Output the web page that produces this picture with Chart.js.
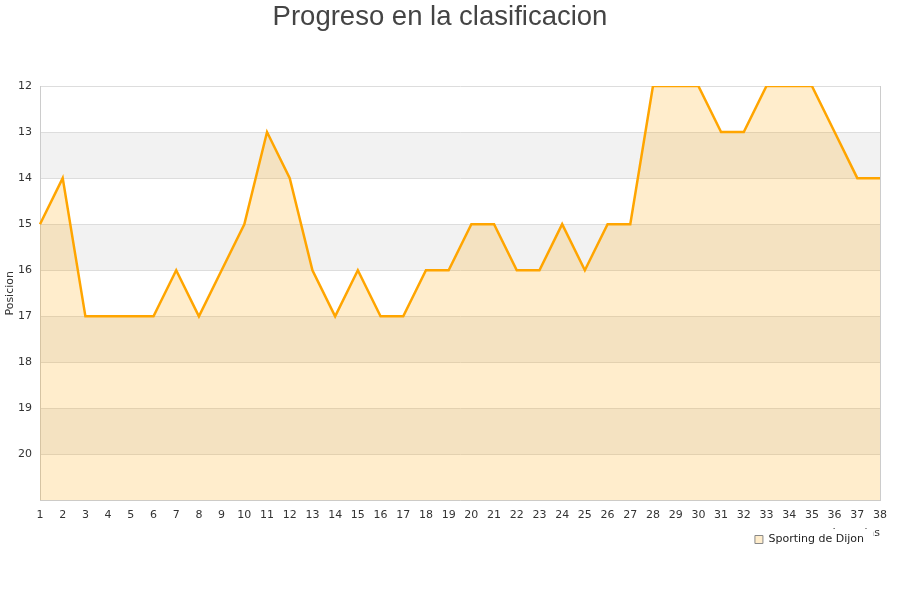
<!DOCTYPE html>
<html>
<head>
<meta charset="utf-8">
<script src="https://cdn.jsdelivr.net/npm/chart.js@4"></script>
<style>
  html, body { margin: 0; padding: 0; background: #ffffff; }
  #wrap { width: 900px; height: 600px; }
</style>
</head>
<body>
<div id="wrap"><canvas id="c" width="900" height="600"></canvas></div>
<script>
const jornadas = [1,2,3,4,5,6,7,8,9,10,11,12,13,14,15,16,17,18,19,20,21,22,23,24,25,26,27,28,29,30,31,32,33,34,35,36,37,38];
const posiciones = [15,14,17,17,17,17,16,17,16,15,13,14,16,17,16,17,17,16,16,15,15,16,16,15,16,15,15,12,12,12,13,13,12,12,12,13,14,14];
const teamName = 'Sporting de Dijon';
const chartTitle = 'Progreso en la clasificacion';
const yTitle = 'Posicion';
const xTitle = 'Jornadas';
const yMin = 12, yMax = 21;
const shadedBands = [[13,14],[15,16],[17,18],[19,20]];

const bandsPlugin = {
  id: 'bands',
  beforeDraw(chart) {
    const {ctx, chartArea, scales} = chart;
    ctx.save();
    ctx.fillStyle = '#ffffff';
    ctx.fillRect(0, 0, chart.width, chart.height);
    ctx.fillStyle = '#f2f2f2';
    shadedBands.forEach(([a, b]) => {
      const y1 = scales.y.getPixelForValue(a);
      const y2 = scales.y.getPixelForValue(b);
      ctx.fillRect(chartArea.left, Math.min(y1, y2), chartArea.right - chartArea.left, Math.abs(y2 - y1));
    });
    ctx.restore();
  },
  afterDraw(chart) {
    const {ctx, chartArea} = chart;
    ctx.save();
    ctx.strokeStyle = '#cccccc';
    ctx.lineWidth = 1;
    ctx.beginPath();
    ctx.moveTo(Math.round(chartArea.right) + 0.5, chartArea.top);
    ctx.lineTo(Math.round(chartArea.right) + 0.5, chartArea.bottom);
    ctx.stroke();
    const hb = chart.legend.legendHitBoxes[0];
    if (hb) {
      ctx.fillStyle = '#ffffff';
      ctx.fillRect(hb.left - 6, hb.top - 5, hb.width + 15, hb.height + 12);
    }
    ctx.restore();
    chart.legend.draw();
  }
};

new Chart(document.getElementById('c'), {
  type: 'line',
  data: {
    labels: jornadas,
    datasets: [{
      label: teamName,
      data: posiciones,
      borderColor: '#FFA500',
      backgroundColor: 'rgba(255,165,0,0.2)',
      borderWidth: 2.5,
      pointRadius: 0,
      pointHoverRadius: 0,
      tension: 0,
      fill: 'start'
    }]
  },
  options: {
    responsive: false,
    animation: false,
    layout: { padding: { left: 0, right: 20, top: 0, bottom: 45 } },
    plugins: {
      title: {
        display: true,
        text: chartTitle,
        color: '#444444',
        font: { family: 'Liberation Sans', size: 27.5, weight: 'normal' },
        padding: { top: 1, bottom: 52 }
      },
      legend: {
        position: 'bottom',
        align: 'end',
        labels: {
          color: '#222222',
          font: { family: 'DejaVu Sans', size: 11 },
          boxWidth: 8,
          boxHeight: 8,
          padding: 16,
          generateLabels(chart) {
            return chart.data.datasets.map((ds, i) => ({
              text: ds.label,
              fillStyle: 'rgba(255,165,0,0.2)',
              strokeStyle: '#888888',
              lineWidth: 1,
              fontColor: '#222222',
              datasetIndex: i,
              hidden: false
            }));
          }
        }
      },
      tooltip: { enabled: false }
    },
    scales: {
      x: {
        offset: false,
        grid: { display: false, drawTicks: false },
        border: { display: true, color: '#cccccc' },
        ticks: {
          color: '#333333',
          font: { family: 'DejaVu Sans', size: 11 },
          padding: 8,
          maxRotation: 0,
          autoSkip: false,
          z: -1
        },
        title: {
          display: true,
          text: xTitle,
          align: 'end',
          color: '#333333',
          font: { family: 'DejaVu Sans', size: 11 },
          padding: { top: -3, bottom: -22 }
        }
      },
      y: {
        reverse: true,
        min: yMin,
        max: yMax,
        grid: { color: '#dddddd', drawTicks: false },
        border: { display: true, color: '#cccccc' },
        ticks: {
          stepSize: 1,
          color: '#333333',
          font: { family: 'DejaVu Sans', size: 11 },
          padding: 8,
          callback: (v) => (v === yMax ? '' : v)
        },
        title: {
          display: true,
          text: yTitle,
          color: '#333333',
          font: { family: 'DejaVu Sans', size: 11 },
          padding: { top: 4, bottom: 0 }
        },
        afterFit(scale) { scale.width = 40; }
      }
    }
  },
  plugins: [bandsPlugin]
});
</script>
</body>
</html>
